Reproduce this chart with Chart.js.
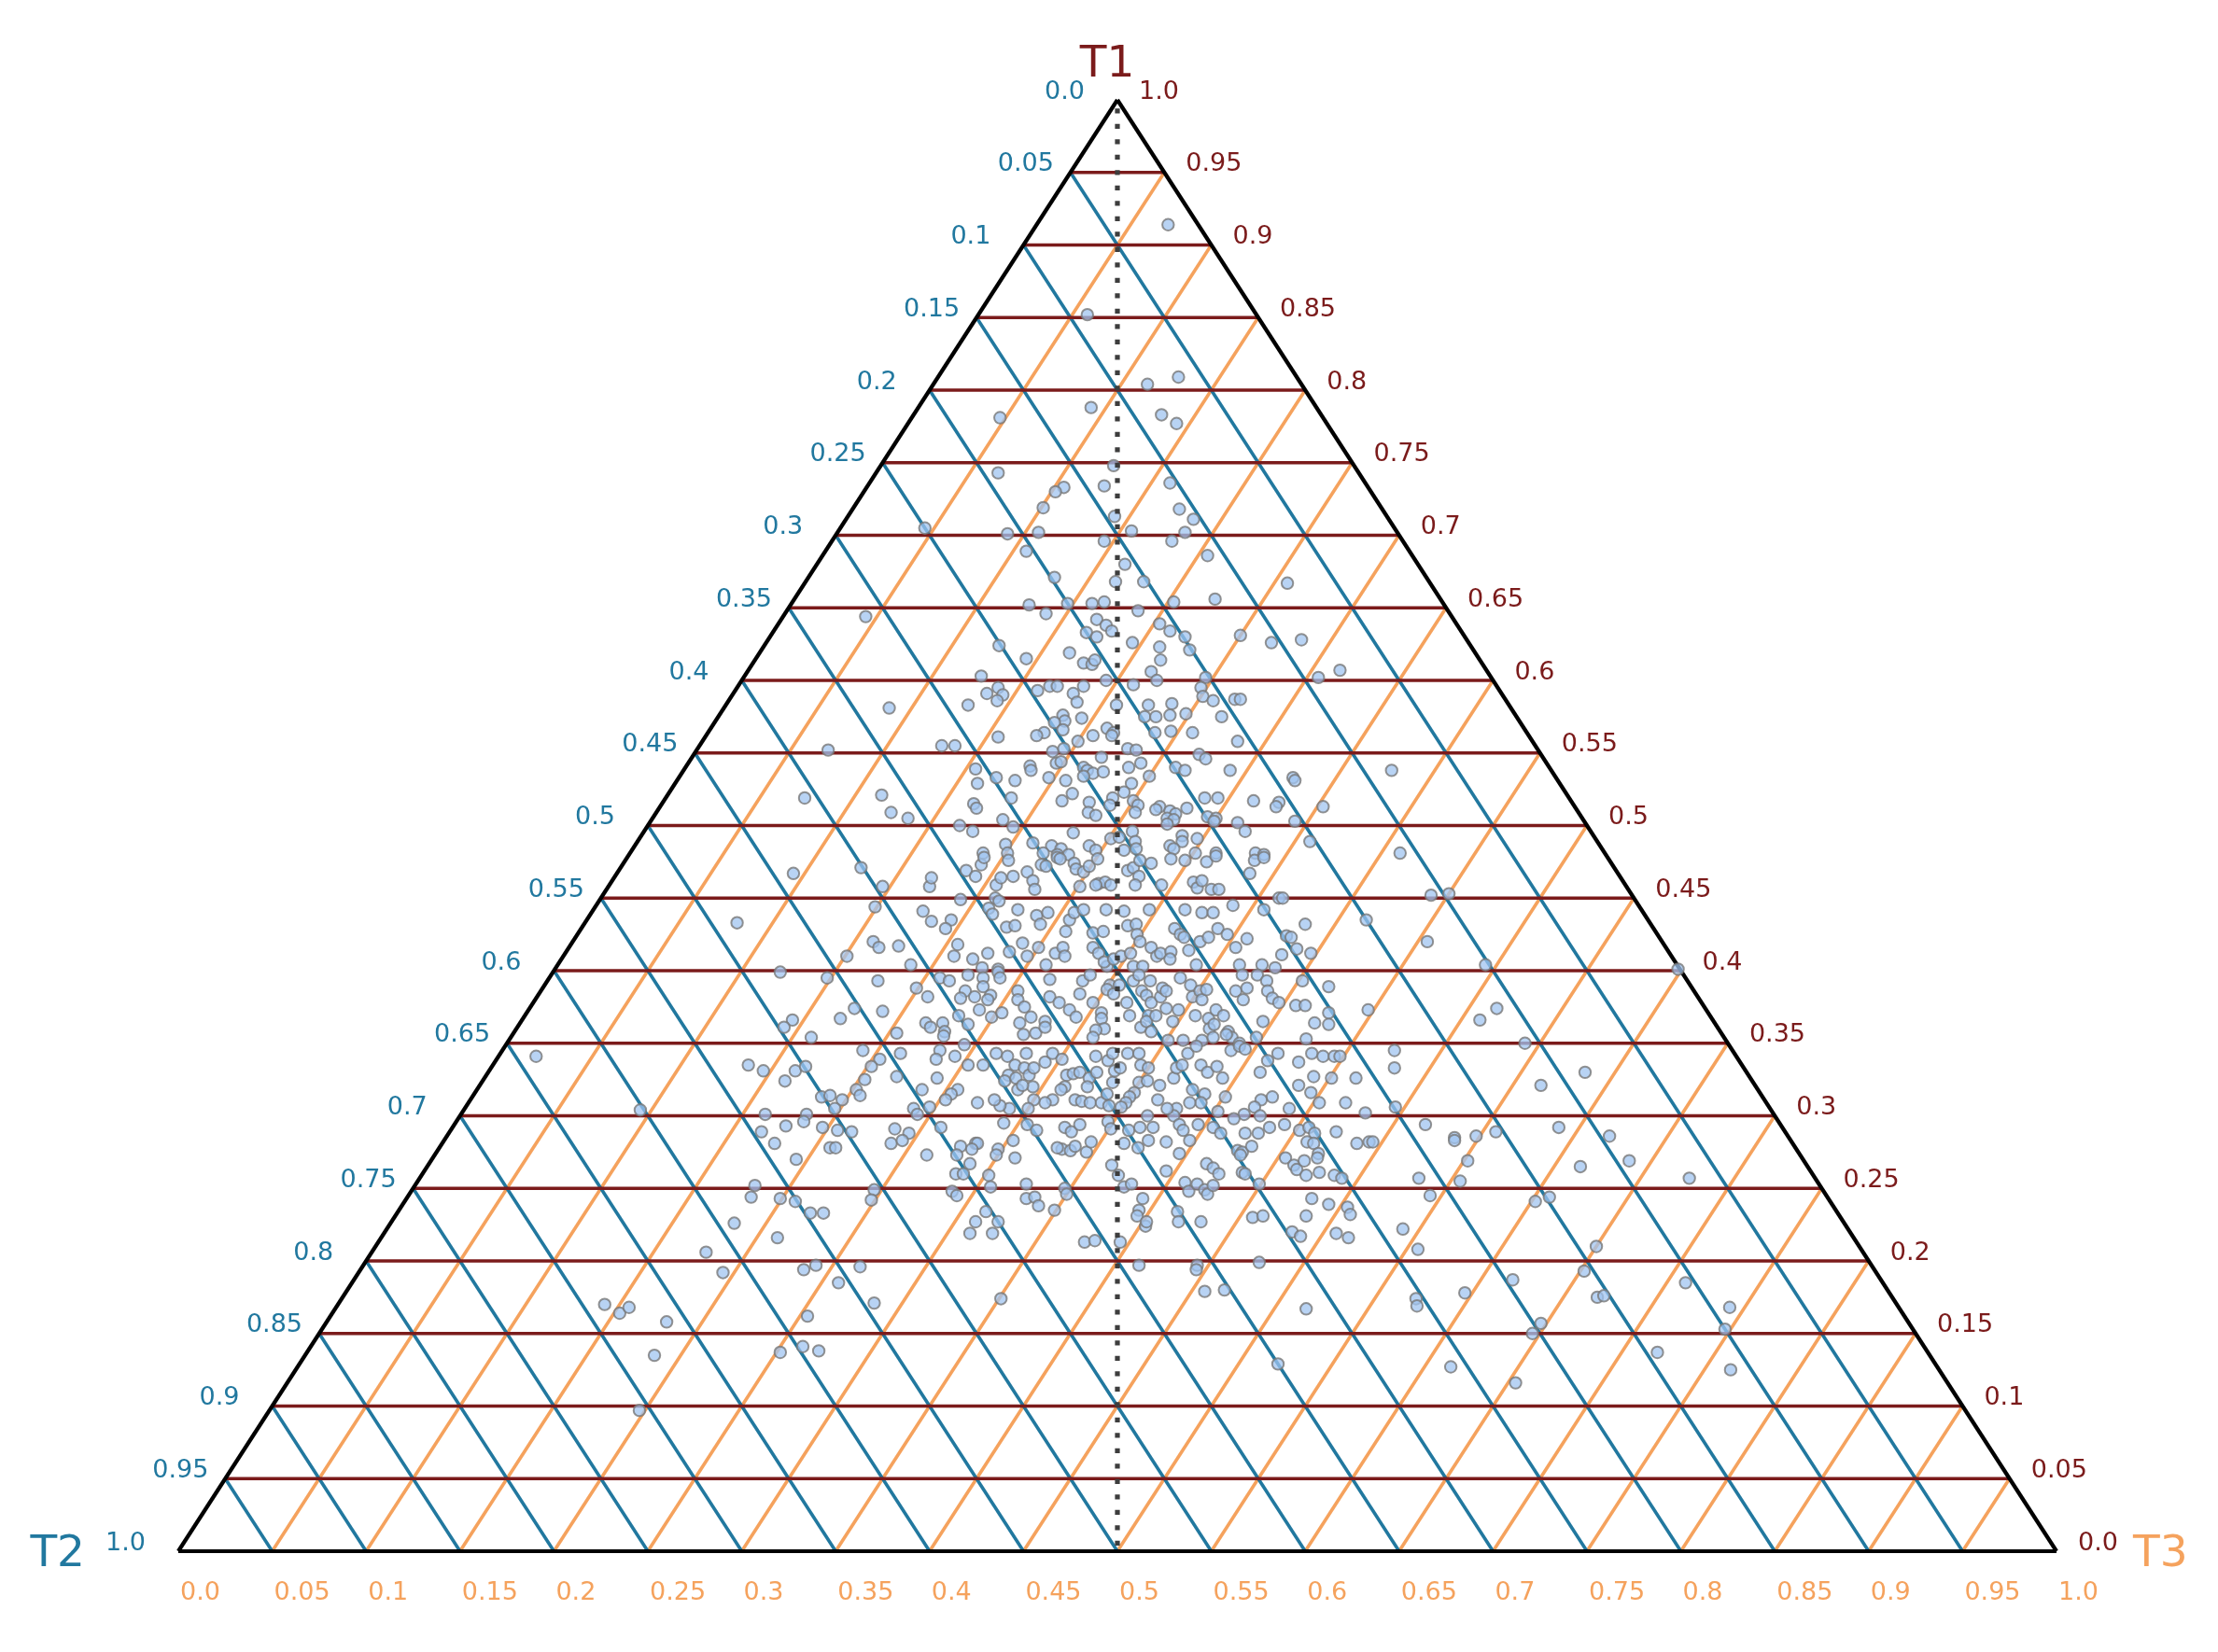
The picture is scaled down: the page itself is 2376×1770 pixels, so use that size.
<!DOCTYPE html>
<html><head><meta charset="utf-8">
<script src="https://cdn.jsdelivr.net/npm/chart.js@4.4.1/dist/chart.umd.min.js"></script>
<style>html,body{margin:0;padding:0;background:#fff;}canvas{display:block;}</style>
</head><body>
<canvas id="c" width="2376" height="1770" style="width:2376px;height:1770px"></canvas>
<script>
// ---- tick values / labels (same for all three ternary axes) ----
const tickValues = [0,0.05,0.1,0.15,0.2,0.25,0.3,0.35,0.4,0.45,0.5,0.55,0.6,0.65,0.7,0.75,0.8,0.85,0.9,0.95,1];
const tickLabels = ["0.0","0.05","0.1","0.15","0.2","0.25","0.3","0.35","0.4","0.45","0.5","0.55","0.6","0.65","0.7","0.75","0.8","0.85","0.9","0.95","1.0"];
const axisTitles = ["T1","T2","T3"];

// ---- points as [T1, T3] pairs (T2 = 1 - T1 - T3) ----
const ptsTop = [[.914,.070],[.852,.058],[.809,.128],[.804,.114],[.788,.092],[.783,.132],[.777,.143],[.781,.047],[.743,.065],[.748,.124],[.736,.160],[.733,.105],[.730,.102],[.734,.126],[.719,.101],[.718,.174],[.711,.185],[.713,.142],[.705,.045],[.701,.091],[.702,.107],[.703,.156],[.702,.185],[.696,.145],[.696,.181],[.689,.107],[.686,.205],[.680,.164]];
const ptsUpperSides = [[.644,.044],[.581,.088],[.552,.070],[.519,.074],[.521,.114],[.509,.125],[.505,.136],[.538,.377],[.481,.410]];
const ptsUpperCore = [[.671,.131],[.668,.165],[.668,.180],[.667,.257],[.652,.127],[.653,.147],[.653,.160],[.654,.166],[.648,.187],[.654,.203],[.656,.224],[.646,.139],[.642,.168],[.638,.175],[.634,.180],[.633,.167],[.630,.174],[.639,.203],[.634,.211],[.630,.221],[.631,.250],[.626,.269],[.628,.284],[.626,.195],[.623,.211],[.621,.228],[.624,.125],[.619,.165],[.615,.144],[.612,.176],[.611,.181],[.614,.181],[.614,.216],[.606,.215],[.600,.221],[.607,.315],[.602,.306],[.602,.246],[.603,.126],[.600,.194],[.597,.210],[.596,.166],[.596,.170],[.596,.184],[.593,.161],[.591,.181],[.585,.186],[.591,.135],[.595,.139],[.590,.144],[.586,.143],[.583,.129],[.595,.247],[.589,.251],[.586,.258],[.587,.269],[.587,.272],[.583,.208],[.583,.225],[.584,.237],[.576,.183],[.572,.186],[.571,.181],[.574,.194],[.566,.188],[.575,.227],[.575,.233],[.576,.240],[.577,.248],[.575,.268],[.567,.211],[.564,.216],[.562,.216],[.562,.206],[.564,.179],[.562,.176],[.561,.156],[.564,.238],[.565,.246],[.564,.258],[.558,.285],[.558,.200],[.555,.129],[.555,.136],[.551,.190],[.553,.195],[.553,.229],[.552,.234],[.547,.218],[.549,.269],[.546,.274],[.543,.196],[.544,.198],[.541,.183],[.538,.185],[.540,.212],[.538,.215],[.536,.219],[.537,.224],[.540,.236],[.543,.241],[.540,.261],[.538,.267],[.539,.155],[.538,.291],[.533,.327],[.533,.169],[.531,.180],[.533,.197],[.531,.207],[.534,.215],[.529,.161],[.529,.243],[.534,.250],[.531,.329],[.522,.215],[.523,.242],[.519,.238],[.519,.184],[.517,.212],[.519,.287],[.519,.294],[.517,.314],[.515,.166],[.512,.169],[.516,.227],[.517,.250],[.514,.254],[.516,.328],[.513,.328],[.513,.353],[.509,.230],[.507,.235],[.514,.239],[.509,.255],[.513,.266],[.511,.265],[.510,.273],[.508,.277],[.512,.281],[.505,.274],[.504,.278],[.501,.276],[.506,.295],[.505,.300],[.503,.300],[.502,.313],[.496,.320],[.503,.343],[.504,.187],[.500,.166],[.496,.175],[.499,.195],[.496,.260],[.495,.229],[.487,.197],[.488,.211],[.486,.222],[.484,.228],[.486,.242],[.483,.247],[.491,.251],[.492,.255],[.483,.262],[.489,.265],[.484,.268],[.486,.285],[.493,.288],[.489,.290],[.491,.297],[.489,.358],[.481,.188],[.481,.201],[.481,.220],[.480,.228],[.480,.234],[.481,.301],[.481,.312],[.481,.333],[.480,.338],[.484,.288]];
const ptsMidLeft = [[.467,.094],[.471,.128],[.458,.146],[.458,.171],[.464,.169],[.444,.149],[.441,.176],[.434,.184],[.433,.081],[.420,.160],[.416,.165],[.417,.175],[.410,.151],[.404,.188],[.399,.121],[.395,.148],[.393,.176],[.388,.199],[.382,.208],[.374,.173],[.372,.189],[.367,.169],[.366,.144],[.361,.142],[.364,.216],[.361,.220],[.354,.160],[.357,.204],[.341,.020],[.345,.192],[.343,.213],[.339,.204],[.334,.202],[.335,.136],[.331,.146],[.331,.163],[.334,.167],[.324,.161],[.325,.203],[.327,.219],[.318,.237],[.313,.186],[.314,.190],[.311,.198],[.318,.202],[.314,.206],[.305,.197],[.305,.239],[.301,.243],[.306,.247],[.304,.094],[.301,.162],[.301,.184],[.289,.166],[.293,.177],[.296,.185],[.292,.197],[.290,.206],[.289,.214],[.291,.236],[.288,.245]];
const ptsMidRight = [[.452,.441],[.453,.450],[.435,.415],[.420,.455],[.404,.494],[.401,.598],[.373,.447],[.374,.515],[.366,.510],[.350,.542],[.345,.475],[.333,.481],[.326,.464],[.330,.584],[.321,.565],[.309,.467],[.306,.495],[.302,.481],[.294,.517],[.292,.589],[.289,.557],[.286,.548],[.286,.619],[.285,.537]];
const ptsCoreA = [[.469,.185],[.465,.192],[.473,.191],[.478,.190],[.459,.206],[.464,.206],[.476,.204],[.465,.212],[.468,.218],[.462,.224],[.456,.228],[.473,.223],[.472,.226],[.478,.229],[.477,.231],[.474,.240],[.470,.243],[.468,.248],[.458,.251],[.472,.249],[.460,.260],[.461,.263],[.459,.267],[.477,.251],[.469,.271],[.471,.273],[.465,.279],[.459,.280],[.476,.274],[.474,.281],[.459,.294],[.477,.290],[.476,.298],[.461,.310],[.457,.314],[.462,.314],[.475,.310],[.456,.322],[.456,.326],[.479,.313],[.467,.337],[.476,.335],[.478,.339],[.450,.361],[.450,.363],[.449,.192],[.450,.210],[.448,.213]];
const ptsCoreB = [[.435,.194],[.410,.208],[.418,.206],[.429,.194],[.408,.219],[.443,.210],[.439,.214],[.412,.225],[.402,.227],[.401,.236],[.430,.226],[.431,.230],[.413,.236],[.442,.226],[.419,.240],[.410,.247],[.438,.238],[.432,.243],[.416,.250],[.404,.260],[.440,.243],[.412,.261],[.416,.263],[.410,.267],[.427,.259],[.435,.257],[.440,.257],[.442,.261],[.426,.274],[.416,.279],[.412,.284],[.427,.279],[.442,.273],[.403,.293],[.459,.259],[.406,.290],[.408,.294],[.410,.297],[.441,.283],[.431,.290],[.432,.294],[.425,.298],[.420,.302],[.412,.301],[.403,.307],[.403,.312],[.442,.296],[.416,.310],[.410,.316],[.412,.317],[.413,.322],[.408,.324],[.429,.316],[.425,.321],[.423,.324],[.442,.315],[.414,.331],[.404,.340],[.420,.334],[.440,.325],[.423,.337],[.440,.331],[.429,.339],[.425,.346],[.445,.339],[.416,.355],[.404,.363],[.422,.358],[.442,.357],[.404,.375],[.402,.383],[.411,.382],[.424,.378],[.423,.381],[.415,.388],[.432,.384],[.412,.397]];
const ptsCoreC = [[.395,.208],[.393,.214],[.397,.222],[.395,.231],[.399,.237],[.395,.240],[.386,.226],[.381,.226],[.382,.233],[.389,.234],[.383,.241],[.380,.241],[.373,.240],[.369,.231],[.364,.225],[.358,.229],[.363,.239],[.368,.249],[.371,.253],[.386,.254],[.380,.257],[.375,.263],[.364,.266],[.356,.272],[.368,.270],[.357,.278],[.365,.279],[.361,.281],[.394,.267],[.382,.273],[.378,.280],[.373,.288],[.368,.294],[.384,.288],[.393,.285],[.397,.287],[.378,.298],[.371,.306],[.367,.308],[.360,.313],[.359,.309],[.354,.310],[.390,.301],[.387,.301],[.384,.306],[.390,.306],[.378,.316],[.369,.322],[.393,.312],[.397,.313],[.386,.320],[.383,.324],[.393,.321],[.378,.329],[.382,.332],[.388,.330],[.386,.333],[.374,.339],[.369,.332],[.361,.332],[.365,.333],[.358,.339],[.369,.336],[.365,.347],[.373,.346],[.395,.336],[.352,.359],[.390,.344],[.382,.349],[.369,.357],[.386,.351],[.380,.355],[.387,.354],[.367,.365],[.360,.369],[.363,.370],[.373,.366],[.369,.372],[.358,.380],[.386,.370],[.397,.368],[.380,.377],[.388,.375],[.397,.376],[.393,.383],[.386,.387],[.381,.392],[.378,.397],[.376,.407],[.376,.412],[.393,.402],[.389,.418],[.364,.423],[.363,.431],[.371,.427],[.365,.395],[.354,.397],[.354,.384],[.350,.390],[.352,.369],[.354,.374],[.356,.380],[.353,.424],[.355,.230],[.352,.351]];
const ptsCoreD = [[.345,.233],[.339,.234],[.341,.243],[.335,.253],[.349,.244],[.335,.261],[.343,.264],[.341,.271],[.335,.278],[.343,.280],[.333,.284],[.328,.278],[.324,.278],[.326,.283],[.328,.289],[.320,.295],[.318,.288],[.321,.289],[.333,.289],[.337,.293],[.343,.294],[.339,.301],[.328,.309],[.329,.312],[.330,.315],[.326,.322],[.330,.324],[.320,.324],[.320,.312],[.311,.322],[.310,.326],[.309,.331],[.309,.337],[.315,.337],[.323,.336],[.331,.333],[.338,.326],[.341,.318],[.343,.326],[.333,.335],[.343,.334],[.343,.340],[.335,.345],[.333,.350],[.323,.350],[.324,.354],[.321,.362],[.316,.351],[.313,.350],[.326,.367],[.333,.365],[.335,.367],[.343,.366],[.348,.368],[.335,.377],[.330,.383],[.334,.386],[.326,.393],[.345,.388],[.348,.391],[.346,.395],[.330,.411],[.338,.411],[.343,.414],[.337,.428],[.343,.432],[.341,.439],[.341,.445],[.341,.448],[.327,.441],[.326,.451],[.321,.436],[.316,.445],[.313,.426],[.311,.421],[.306,.420],[.301,.417],[.313,.401],[.315,.389],[.309,.390],[.309,.384],[.318,.381],[.305,.379],[.300,.380],[.305,.374],[.311,.366],[.309,.350],[.306,.349],[.307,.342],[.318,.311],[.311,.310],[.309,.307],[.311,.300],[.305,.300],[.305,.290],[.307,.284],[.311,.279],[.309,.271],[.318,.256],[.315,.254],[.311,.253],[.326,.241],[.309,.453],[.305,.439],[.303,.402]];
const ptsCoreE = [[.292,.260],[.295,.292],[.294,.305],[.290,.312],[.292,.326],[.289,.331],[.294,.333],[.296,.347],[.291,.351],[.290,.361],[.292,.366],[.292,.373],[.300,.366],[.294,.386],[.290,.390],[.294,.396],[.292,.405],[.288,.411],[.298,.413],[.300,.426],[.292,.435],[.294,.442],[.290,.452],[.292,.456],[.288,.461],[.289,.472],[.288,.431],[.288,.424]];
const ptsLowLeft = [[.281,.177],[.270,.194],[.278,.208],[.278,.211],[.281,.239],[.283,.244],[.273,.262],[.252,.181],[.244,.183],[.243,.199],[.241,.208],[.233,.220],[.233,.227],[.249,.246],[.242,.248],[.226,.183],[.216,.211],[.206,.178],[.192,.194],[.194,.236],[.197,.241],[.185,.259],[.196,.265],[.171,.285],[.170,.142],[.164,.153],[.168,.156],[.158,.181],[.162,.254],[.141,.262],[.137,.252],[.138,.272],[.135,.186],[.097,.197]];
const ptsLowCore = [[.279,.277],[.281,.284],[.281,.285],[.277,.284],[.273,.278],[.267,.288],[.277,.298],[.273,.299],[.271,.310],[.283,.303],[.260,.284],[.260,.288],[.259,.302],[.251,.307],[.248,.288],[.245,.292],[.253,.325],[.243,.330],[.244,.334],[.238,.339],[.235,.349],[.234,.313],[.227,.311],[.227,.323],[.219,.312],[.219,.324],[.277,.332],[.276,.337],[.279,.338],[.278,.329],[.275,.346],[.282,.345],[.250,.347],[.246,.350],[.266,.364],[.259,.371],[.251,.378],[.253,.381],[.281,.363],[.278,.372],[.283,.375],[.243,.392],[.235,.394],[.231,.395],[.224,.403],[.227,.402],[.213,.376],[.214,.381],[.213,.395],[.197,.413],[.282,.385],[.274,.396],[.283,.397],[.262,.395],[.254,.409],[.248,.414],[.253,.416],[.267,.414],[.264,.419],[.260,.424],[.249,.422],[.246,.425],[.252,.425],[.234,.415],[.227,.419],[.227,.431],[.276,.426],[.275,.429],[.273,.429],[.279,.432],[.261,.436],[.260,.438],[.253,.449],[.230,.457],[.231,.462],[.271,.454],[.266,.461],[.263,.464],[.269,.465],[.259,.471],[.282,.460],[.281,.464],[.274,.470],[.271,.471],[.261,.477],[.259,.486],[.243,.482],[.239,.493],[.231,.485],[.220,.483],[.217,.489],[.219,.507],[.199,.476],[.197,.444],[.194,.445],[.179,.457],[.180,.467],[.167,.517],[.129,.521],[.174,.351],[.257,.491]];
const ptsLowRight = [[.281,.487],[.282,.493],[.282,.495],[.283,.538],[.269,.552],[.257,.532],[.255,.555],[.245,.544],[.237,.504],[.232,.508],[.216,.515],[.222,.541],[.208,.556],[.265,.614],[.269,.638],[.257,.676],[.241,.602],[.244,.608],[.210,.650],[.193,.652],[.187,.617],[.178,.596],[.174,.572],[.169,.575],[.175,.668],[.176,.671],[.185,.710],[.168,.742],[.153,.747],[.157,.647],[.150,.646],[.137,.719],[.125,.764],[.127,.614],[.116,.654]];

const allPoints = [].concat(ptsTop, ptsUpperSides, ptsUpperCore, ptsMidLeft, ptsMidRight,
  ptsCoreA, ptsCoreB, ptsCoreC, ptsCoreD, ptsCoreE, ptsLowLeft, ptsLowCore, ptsLowRight);

// ---- colours ----
const C_T1 = '#7b1b1b', C_T2 = '#21789f', C_T3 = '#f5a25d';

// ternary (T1, T3) -> cartesian in the triangle frame (x: 0..1 along base, y: T1)
function tern(t1, t3) { return { x: t3 + t1 / 2, y: t1 }; }

const datasets = [];
function lineDs(p, q, color, width, order, extra) {
  return Object.assign({ type: 'line', data: [p, q], borderColor: color, borderWidth: width,
    pointRadius: 0, fill: false, tension: 0, clip: false, order: order, borderCapStyle: 'butt' }, extra || {});
}
const inner = tickValues.slice(1, -1);
// T3 grid (orange), constant T3: from base to right edge
inner.forEach(v => datasets.push(lineDs(tern(0, v), tern(1 - v, v), C_T3, 3.6, 6)));
// T2 grid (blue), constant T2: from left edge to base
inner.forEach(v => datasets.push(lineDs(tern(1 - v, 0), tern(0, 1 - v), C_T2, 3.6, 5)));
// T1 grid (dark red), constant T1: horizontal
inner.forEach(v => datasets.push(lineDs(tern(v, 0), tern(v, 1 - v), C_T1, 3.6, 4)));
// triangle frame
datasets.push(lineDs(tern(0, 0), tern(0, 1), '#000', 4.2, 3));
datasets.push(lineDs(tern(0, 1), tern(1, 0), '#000', 4.2, 3));
datasets.push(lineDs(tern(1, 0), tern(0, 0), '#000', 4.2, 3));
// data points
datasets.push({ type: 'scatter', data: allPoints.map(p => tern(p[0], p[1])),
  pointRadius: 6.2, pointBorderWidth: 2,
  pointBackgroundColor: 'rgba(160,196,240,0.75)', pointBorderColor: 'rgba(120,120,120,0.8)',
  clip: false, order: 1 });
// dotted centre line (T2 = T3)
datasets.push(lineDs(tern(1, 0), tern(0, 0.5), '#3d3d3d', 5.2, 0, { borderDash: [5.3, 11.2], borderDashOffset: 7.2 }));

const labelPlugin = {
  id: 'ternLabels',
  afterDraw(chart) {
    const ctx = chart.ctx, xs = chart.scales.x, ys = chart.scales.y;
    const P = (t1, t3) => { const c = tern(t1, t3); return [xs.getPixelForValue(c.x), ys.getPixelForValue(c.y)]; };
    ctx.save();
    ctx.font = '27px "DejaVu Sans"';
    ctx.textBaseline = 'middle';
    ctx.textAlign = 'left';
    tickValues.forEach((v, i) => {
      // T1 labels on right edge
      let [px, py] = P(v, 1 - v);
      ctx.fillStyle = C_T1; ctx.fillText(tickLabels[i], px + 23, py - 8.5);
      // T2 labels on left edge
      [px, py] = P(1 - v, 0);
      ctx.fillStyle = C_T2; ctx.fillText(tickLabels[i], px - 78, py - 8.5);
      // T3 labels on base
      [px, py] = P(0, v);
      ctx.fillStyle = C_T3; ctx.fillText(tickLabels[i], px + 2, py + 45);
    });
    ctx.font = '47px "DejaVu Sans"';
    let [ax, ay] = P(1, 0);
    ctx.fillStyle = C_T1; ctx.textAlign = 'center'; ctx.fillText(axisTitles[0], ax - 11, ay - 37);
    let [lx, ly] = P(0, 0);
    ctx.fillStyle = C_T2; ctx.textAlign = 'right'; ctx.fillText(axisTitles[1], lx - 100, ly + 4);
    let [rx, ry] = P(0, 1);
    ctx.fillStyle = C_T3; ctx.textAlign = 'left'; ctx.fillText(axisTitles[2], rx + 82, ry + 4);
    ctx.restore();
  }
};

new Chart(document.getElementById('c').getContext('2d'), {
  type: 'scatter',
  data: { datasets: datasets },
  options: {
    responsive: false, animation: false, devicePixelRatio: 1,
    layout: { padding: { left: 191, right: 173, top: 107, bottom: 108 } },
    scales: {
      x: { type: 'linear', min: 0, max: 1, display: false },
      y: { type: 'linear', min: 0, max: 1, display: false }
    },
    plugins: { legend: { display: false }, tooltip: { enabled: false } },
    events: []
  },
  plugins: [labelPlugin]
});
</script>
</body></html>
